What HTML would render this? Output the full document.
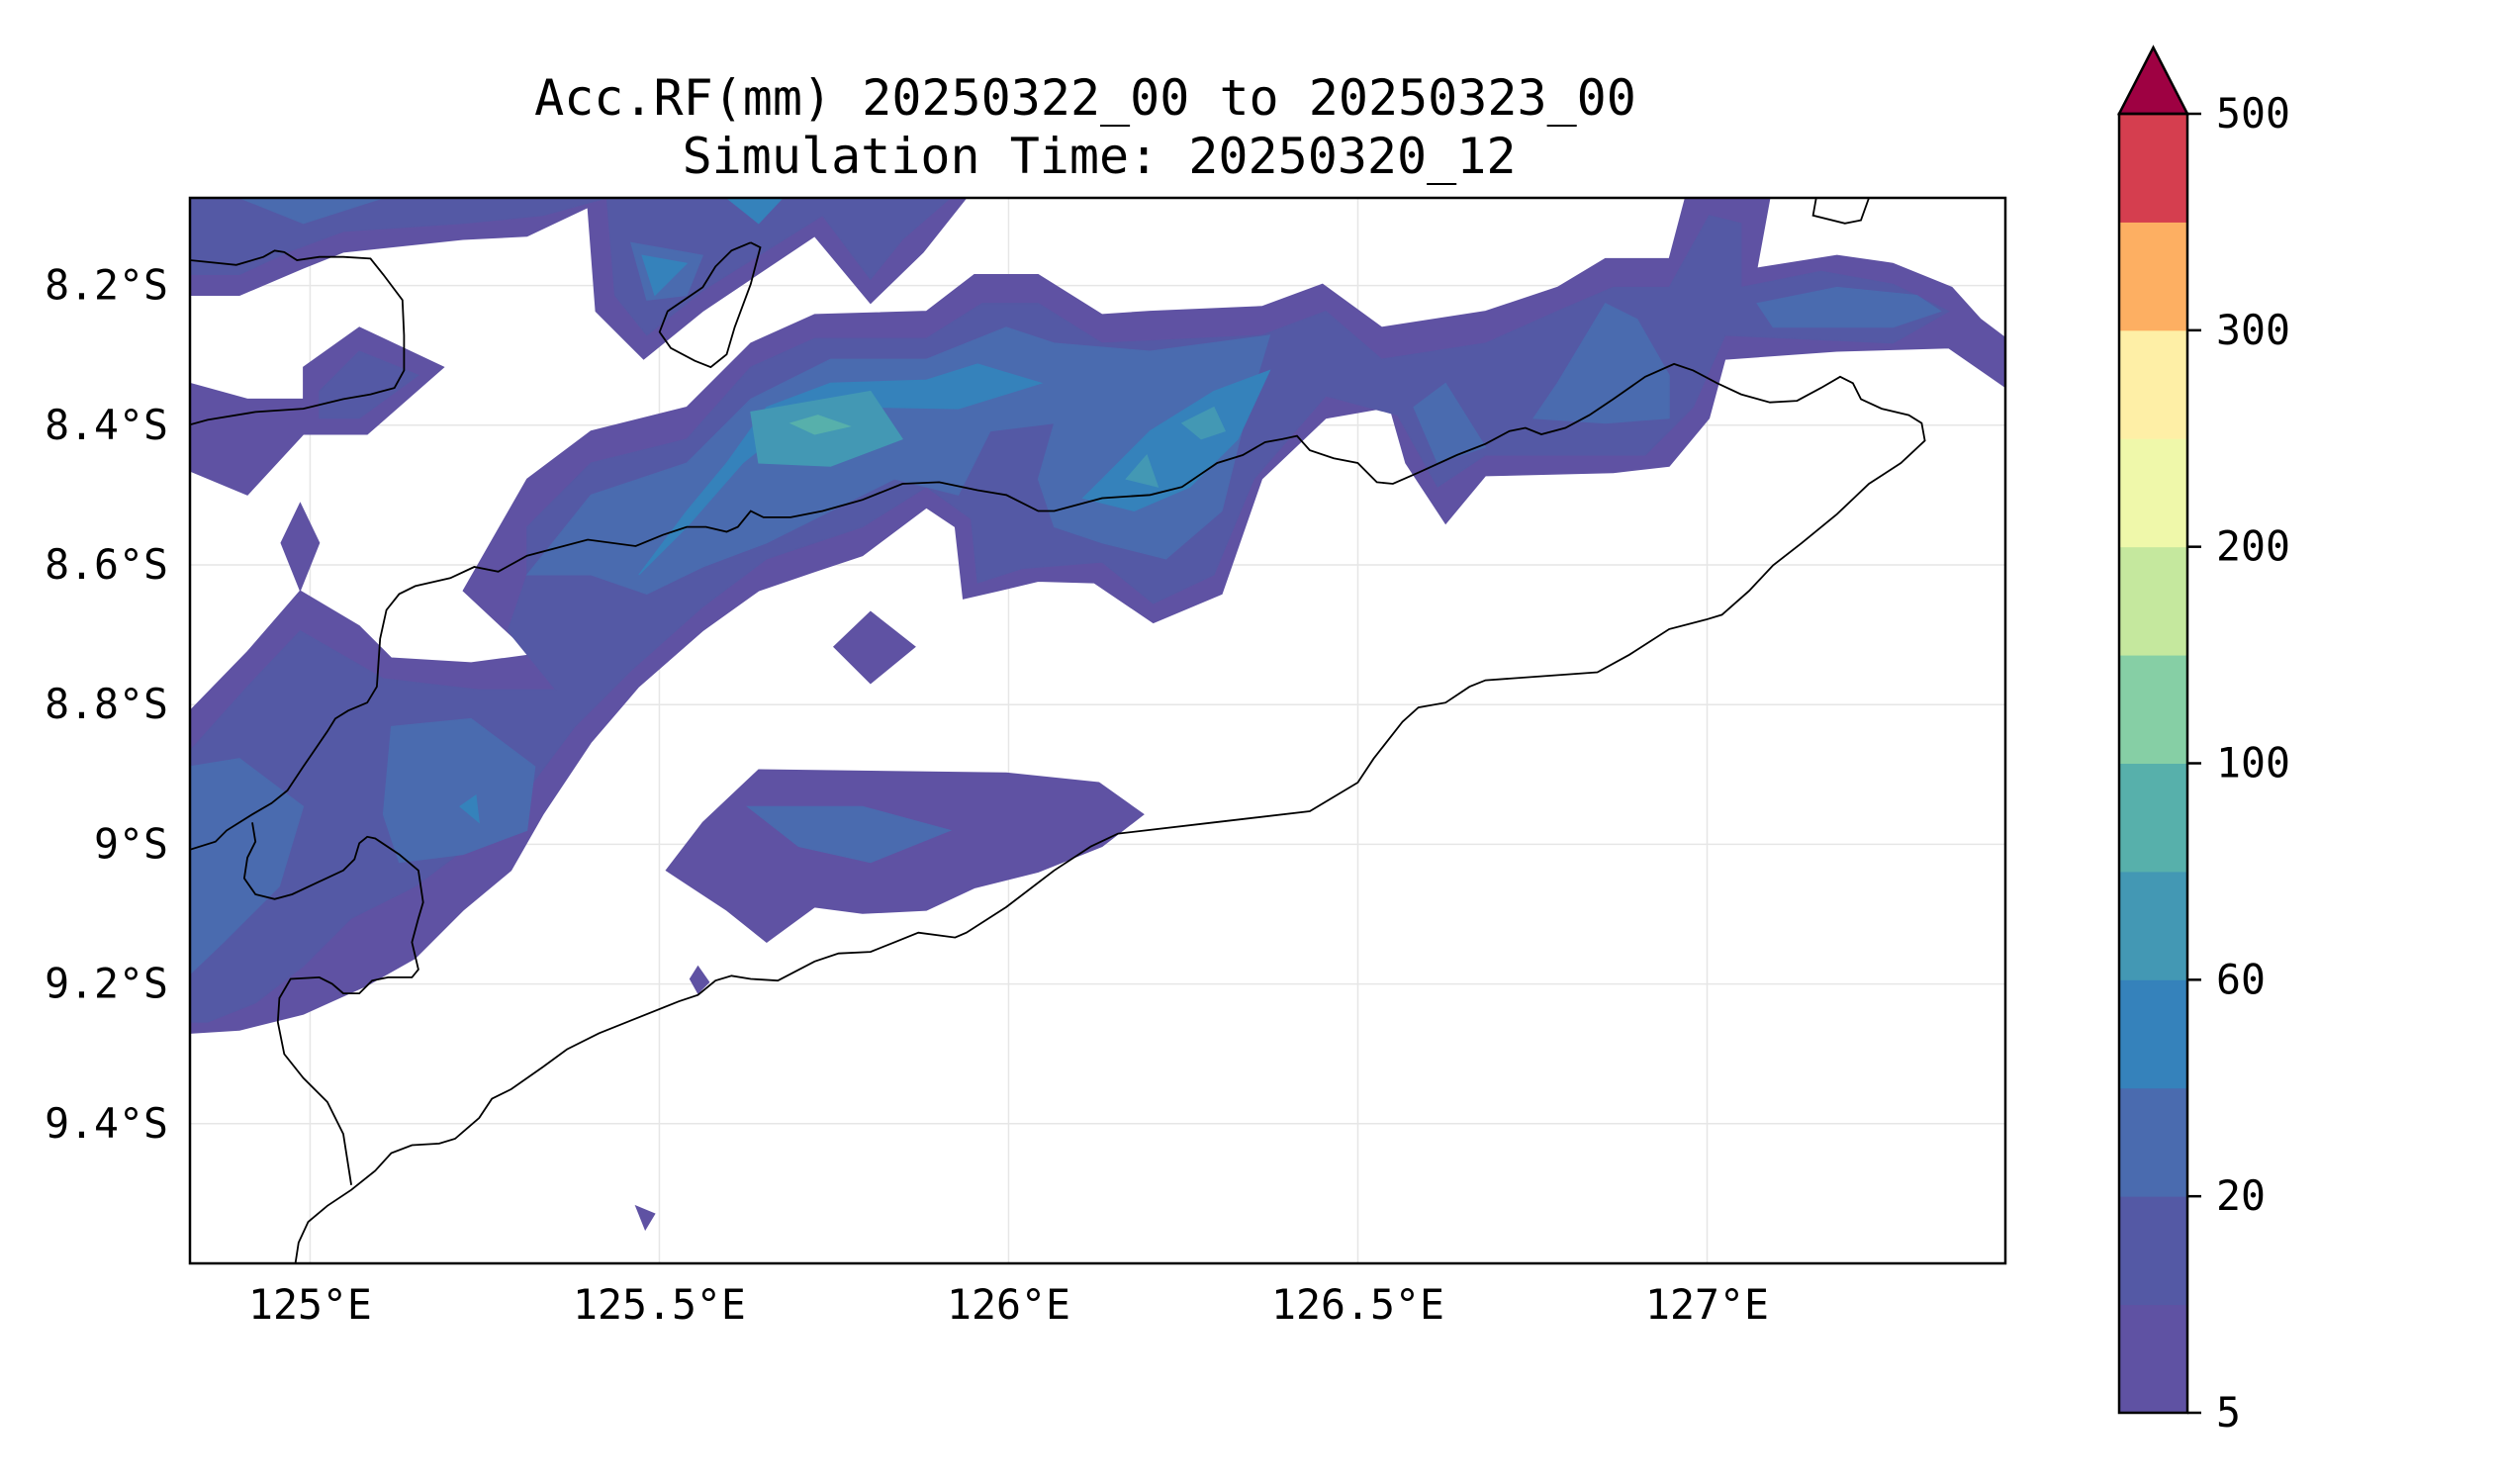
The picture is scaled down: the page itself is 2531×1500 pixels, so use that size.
<!DOCTYPE html>
<html><head><meta charset="utf-8">
<style>
html,body{margin:0;padding:0;background:#fff;}
svg{display:block;}
text{font-family:"DejaVu Sans Mono","Liberation Mono",monospace;fill:#000;}
</style></head>
<body>
<svg id="chart" width="2531" height="1500" viewBox="0 0 2531 1500" xmlns="http://www.w3.org/2000/svg">
<g id="title">
<text x="1097" y="116" font-size="50" text-anchor="middle">Acc.RF(mm) 20250322_00 to 20250323_00</text>
<text x="1111" y="175" font-size="50" text-anchor="middle">Simulation Time: 20250320_12</text>
</g>
<defs><clipPath id="plotclip"><rect x="192" y="200" width="1835" height="1077"/></clipPath></defs>
<g id="grid"></g>
<g id="fills" clip-path="url(#plotclip)"></g>
<g id="coast" clip-path="url(#plotclip)"></g>
<rect x="192" y="200" width="1835" height="1077" fill="none" stroke="#000" stroke-width="2.5"/>
<g id="axes"></g>
<g id="cbar"></g>
</svg>
<script>
// axis extents
const lonRange = [124.828, 127.427];
const latRange = [8.0745, 9.6];
const lonTicks = [125, 125.5, 126, 126.5, 127];
const lonTickLabels = ["125°E","125.5°E","126°E","126.5°E","127°E"];
const latTicks = [8.2, 8.4, 8.6, 8.8, 9.0, 9.2, 9.4];
const latTickLabels = ["8.2°S","8.4°S","8.6°S","8.8°S","9°S","9.2°S","9.4°S"];
const levels = [5,10,20,40,60,80,100,150,200,250,300,400,500];
const levelLabels = ["5","20","60","100","200","300","500"];
const levelLabelIdx = [0,2,4,6,8,10,12];
const bandColors = ["#5f52a3","#5459a5","#4a6baf","#3582bb","#4398b4","#57b0ab","#86cfa5","#c5e89e","#eff8aa","#feefa6","#fdaf62","#d53e4f"];
const extendColor = "#9e0142";

// contour polygons (reference-grid units, converted to lon/lat below)
const band1Raw = [
 [[119,124],[605,124],[578,158],[545,190],[510,148],[440,195],[403,225],[373,195],[368,130],[330,148],[290,150],[215,158],[190,168],[150,185],[119,185]],
 [[119,445],[155,408],[188,370],[225,392],[245,412],[295,415],[333,410],[290,370],[330,300],[370,270],[430,255],[470,215],[510,197],[580,195],[610,172],[650,172],[690,197],[720,195],[790,192],[828,178],[865,205],[930,195],[975,180],[1005,162],[1045,162],[1055,124],[1108,124],[1100,168],[1150,160],[1185,165],[1222,180],[1240,200],[1256,212],[1256,243],[1220,218],[1150,220],[1080,225],[1070,262],[1045,292],[1010,296],[930,298],[905,328],[880,290],[870,255],[830,262],[790,300],[765,372],[722,390],[685,365],[650,364],[625,370],[603,375],[598,330],[580,318],[540,348],[510,358],[475,370],[440,395],[400,430],[370,465],[340,510],[320,545],[290,570],[260,600],[230,617],[190,635],[150,645],[119,647]],
 [[119,240],[155,250],[190,250],[190,230],[225,205],[278,230],[230,272],[190,272],[155,310],[119,295]],
 [[188,315],[200,340],[188,370],[176,340]],
 [[545,383],[573,405],[545,428],[522,405]],
 [[475,482],[630,484],[688,490],[716,510],[690,530],[650,546],[610,556],[580,570],[540,572],[510,568],[480,590],[455,570],[417,545],[440,515]],
 [[437,605],[444,615],[437,622],[432,613]],
 [[398,755],[410,760],[404,770]]
];
const band2Raw = [
 [[119,124],[595,124],[565,150],[545,175],[515,135],[440,182],[405,210],[385,185],[380,124],[340,135],[290,140],[215,145],[180,158],[150,172],[119,172]],
 [[330,330],[370,290],[430,275],[470,230],[510,212],[580,212],[615,190],[650,190],[690,215],[790,210],[830,195],[865,225],[930,215],[975,195],[1010,180],[1045,180],[1070,135],[1090,140],[1090,180],[1140,170],[1185,178],[1220,195],[1185,215],[1080,210],[1060,255],[1030,285],[930,285],[900,305],[875,260],[830,248],[785,300],[760,360],[722,378],[690,352],[640,356],[612,365],[608,325],[580,305],[540,330],[480,350],[440,380],[395,420],[360,455],[330,495],[300,525],[260,555],[220,575],[190,605],[160,628],[130,640],[119,640],[119,470],[155,430],[188,395],[240,425],[300,432],[348,432],[318,395],[330,360]],
 [[200,245],[225,220],[262,235],[225,262],[200,262]]
];
const band3Raw = [
 [[330,360],[370,310],[430,290],[470,250],[520,225],[580,225],[630,205],[660,215],[720,220],[795,210],[780,260],[765,320],[730,350],[690,340],[660,330],[650,300],[660,265],[620,270],[600,310],[560,300],[520,320],[480,340],[440,355],[405,372],[370,360]],
 [[885,255],[905,240],[930,280],[900,290]],
 [[975,240],[1005,190],[1025,200],[1045,235],[1045,262],[1005,265],[960,262]],
 [[245,455],[295,450],[335,480],[330,520],[290,535],[250,540],[240,510]],
 [[119,480],[150,475],[190,505],[175,555],[140,590],[119,610]],
 [[468,505],[540,505],[595,520],[545,540],[500,530]],
 [[395,152],[440,160],[430,185],[405,188]],
 [[1100,190],[1150,180],[1200,185],[1215,195],[1185,205],[1110,205]],
 [[150,124],[240,124],[190,140]]
];
const band4Raw = [
 [[400,360],[430,330],[465,290],[500,262],[545,255],[600,256],[652,240],[612,228],[580,238],[520,240],[480,255],[455,290],[430,320]],
 [[678,312],[690,300],[720,270],[760,245],[795,232],[775,275],[745,305],[710,320]],
 [[288,505],[298,498],[300,515]],
 [[455,124],[490,124],[475,140]],
 [[402,160],[430,165],[410,185]]
];
const band5Raw = [
 [[470,258],[545,245],[565,275],[520,292],[475,290]],
 [[740,265],[760,255],[767,270],[752,275]],
 [[705,300],[718,285],[725,305]]
];
const band6Raw = [
 [[495,265],[512,260],[532,267],[510,272]]
];
const coastRaw = [
 [[119,163],[148,166],[165,161],[172,157],[178,158],[186,163],[200,161],[215,161],[232,162],[240,172],[252,188],[253,210],[253,232],[247,243],[232,247],[215,250],[190,256],[160,258],[130,263],[119,266]],
 [[119,532],[135,527],[142,520],[158,510],[170,503],[180,495],[190,480],[205,458],[210,450],[218,445],[230,440],[236,430],[238,400],[242,382],[250,372],[260,367],[282,362],[297,355],[312,358],[330,348],[368,338],[398,342],[415,335],[430,330],[442,330],[455,333],[462,330],[470,320],[478,324],[495,324],[515,320],[540,313],[565,303],[588,302],[612,307],[630,310],[650,320],[660,320],[675,316],[690,312],[705,311],[720,310],[740,305],[762,290],[778,285],[792,277],[803,275],[812,273],[820,282],[835,287],[850,290],[862,302],[872,303],[888,296],[912,285],[930,278],[945,270],[955,268],[965,272],[980,268],[995,260],[1010,250],[1030,236],[1048,228],[1060,232],[1075,240],[1090,247],[1108,252],[1125,251],[1140,243],[1152,236],[1160,240],[1165,250],[1178,256],[1195,260],[1203,265],[1205,276],[1190,290],[1170,303],[1150,322],[1128,340],[1110,354],[1095,370],[1078,385],[1068,388],[1045,394],[1020,410],[1000,421],[930,426],[920,430],[905,440],[888,443],[878,452],[860,475],[850,490],[820,508],[760,515],[700,522],[683,530],[660,545],[630,568],[605,584],[598,587],[575,584],[560,590],[545,596],[525,597],[510,602],[487,614],[470,613],[458,611],[448,614],[437,623],[425,627],[400,637],[375,647],[355,657],[340,668],[320,682],[308,688],[300,700],[285,713],[275,716],[258,717],[245,722],[235,733],[220,745],[205,755],[193,765],[187,778],[185,791]],
 [[220,742],[215,710],[205,690],[190,675],[178,660],[174,640],[175,625],[182,613],[200,612],[208,616],[215,622],[225,622],[233,614],[243,612],[258,612],[262,607],[258,590],[262,575],[265,565],[262,545],[250,535],[235,525],[230,524],[225,528],[222,538],[215,545],[200,552],[183,560],[172,563],[160,560],[153,550],[155,537],[160,527],[158,515]],
 [[470,152],[476,155],[470,178],[460,205],[455,222],[445,230],[435,226],[420,218],[413,208],[418,195],[440,180],[448,167],[458,157],[470,152]],
 [[1137,124],[1135,135],[1155,140],[1165,138],[1170,124]]
];

const toLL = raws => raws.map(poly => poly.map(([x,y]) => [124.828+(x-119)*0.002287, 8.0745+(y-124)*0.002287]));
const bands = [band1Raw,band2Raw,band3Raw,band4Raw,band5Raw,band6Raw].map(toLL);
const coasts = toLL(coastRaw);

const PX0=192, PX1=2027, PY0=200, PY1=1277;
const xScale = lon => PX0 + (lon-lonRange[0])/(lonRange[1]-lonRange[0])*(PX1-PX0);
const yScale = lat => PY0 + (lat-latRange[0])/(latRange[1]-latRange[0])*(PY1-PY0);
const NS="http://www.w3.org/2000/svg";
function mk(tag, attrs, parent){const e=document.createElementNS(NS,tag);for(const k in attrs)e.setAttribute(k,attrs[k]);parent.appendChild(e);return e;}
const ptsStr = poly => poly.map(([lo,la])=>xScale(lo).toFixed(1)+","+yScale(la).toFixed(1)).join(" ");

const grid=document.getElementById('grid'), axes=document.getElementById('axes');
lonTicks.forEach((t,i)=>{
  const x=xScale(t);
  const g=mk('line',{x1:x,x2:x,y1:PY0,y2:PY1,stroke:'#e6e6e6','stroke-width':1.5},grid);
  
  
  const tx=mk('text',{x:x,y:1333,'font-size':41.5,'text-anchor':'middle'},axes);
  tx.textContent=lonTickLabels[i];
  
  
});
latTicks.forEach((t,i)=>{
  const y=yScale(t);
  const g=mk('line',{x1:PX0,x2:PX1,y1:y,y2:y,stroke:'#e6e6e6','stroke-width':1.5},grid);
  
  
  const tx=mk('text',{x:170,y:y+14,'font-size':41.5,'text-anchor':'end'},axes);
  tx.textContent=latTickLabels[i];
  
  
});

const fills=document.getElementById('fills');
bands.forEach((polys,bi)=>{
  polys.forEach(poly=>{
    const p=mk('polygon',{points:ptsStr(poly),fill:bandColors[bi],stroke:bandColors[bi],'stroke-width':1},fills);
    
    
  });
});
const coast=document.getElementById('coast');
coasts.forEach(line=>{
  const p=mk('polyline',{points:ptsStr(line),fill:'none',stroke:'#000','stroke-width':1.8},coast);
  
  
});

// colorbar
const cb=document.getElementById('cbar');
const CX0=2142, CX1=2211, CY0=115, CY1=1428;
const nb=bandColors.length, bh=(CY1-CY0)/nb;
const cbY = idx => CY1 - idx*bh;
bandColors.forEach((c,i)=>{
  const r=mk('rect',{x:CX0,y:cbY(i+1),width:CX1-CX0,height:bh+0.5,fill:c},cb);
  
  
});
const tri=mk('polygon',{points:`${CX0},${CY0} ${(CX0+CX1)/2},48 ${CX1},${CY0}`,fill:extendColor,stroke:'#000','stroke-width':2.5},cb);


const fr=mk('rect',{x:CX0,y:CY0,width:CX1-CX0,height:CY1-CY0,fill:'none',stroke:'#000','stroke-width':2.5},cb);


levelLabelIdx.forEach((li,i)=>{
  const y=cbY(li);
  const t=mk('line',{x1:CX1,x2:CX1+14,y1:y,y2:y,stroke:'#000','stroke-width':2.5},cb);
  
  
  const tx=mk('text',{x:2240,y:y+14,'font-size':41.5},cb);
  tx.textContent=levelLabels[i];
  
  
});
</script>
</body></html>
